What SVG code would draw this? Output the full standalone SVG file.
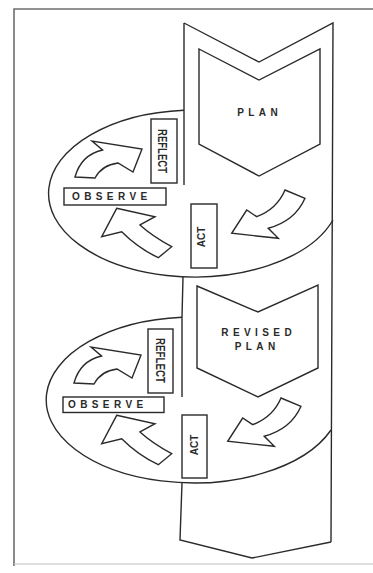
<svg xmlns="http://www.w3.org/2000/svg" xmlns:xlink="http://www.w3.org/1999/xlink" width="373" height="573" viewBox="0 0 373 573">
<style>
.ln{fill:none;stroke:#2a2a2a;stroke-width:1.4;stroke-linejoin:miter}
.sh{fill:#fff;stroke:#2a2a2a;stroke-width:1.4;stroke-linejoin:miter}
.bx{fill:#fff;stroke:#2a2a2a;stroke-width:1.4}
.frame{fill:none;stroke:#6e6e6e;stroke-width:1.6}
.t{font-family:"Liberation Sans",Arial,sans-serif;font-weight:bold;font-size:10px;fill:#2a2a2a;letter-spacing:4.4px}
.tv{font-family:"Liberation Sans",Arial,sans-serif;font-weight:bold;fill:#2a2a2a;text-anchor:middle}
</style>
<defs>
<path id="arrA" d="M75,177 Q81,155 102.5,150 L92,141 L142,149 L133,172 L118,163 Q102,165 95,178 Z"/>
<path id="arrB" d="M116.7,208.3 L155,216.7 L140,225 Q152,236 171.7,246.7 L158.3,257.7 Q138,248 121.7,231.7 L101.7,236.7 Z"/>
<path id="arrC" d="M285,190 L305,198.3 Q295,221 268.3,228.3 L278.3,238.3 L231.7,233.3 L246.7,210 L256.7,216.7 Q277,209 285,190 Z"/>
</defs>
<rect width="373" height="573" fill="#fff"/>
<g id="frame">
<path class="frame" d="M373,9 L14,9 L14,566"/>
<path d="M14,564 L373,564" fill="none" stroke="#bdbdbd" stroke-width="1.2"/>
</g>
<g id="band">
<path class="ln" d="M184,23 L259,62 L333,23 L331,542"/>
<path class="ln" d="M184,23 L184,185"/>
<path class="ln" d="M183,277 L182,317"/>
<path class="ln" d="M182,317 L182,397"/>
<path class="ln" d="M182,483 L180,540 L252,558 L331,542"/>
<path class="ln" d="M184,110.2 A146,83.5 0 1,0 333,220"/>
<path class="ln" d="M182,317.2 A147.4,83 0 1,0 331,430"/>
</g>
<g id="plan">
<path class="sh" d="M199,49 L259,80 L320,49 L320,144 L259,176 L199,144 Z"/>
<text class="t" x="259.7" y="115.5" text-anchor="middle">PLAN</text>
</g>
<g id="act1">
<rect class="bx" x="191" y="204" width="26" height="64"/>
<text class="tv" font-size="10" transform="translate(201.5,237) rotate(-90)" x="0" y="3.6">ACT</text>
</g>
<g id="observe1">
<rect class="bx" x="64" y="188" width="102" height="17"/>
<text class="t" x="72" y="200">OBSERVE</text>
</g>
<g id="reflect1">
<rect class="bx" x="151" y="119" width="26" height="64"/>
<text class="tv" font-size="12.5" transform="translate(162.5,151) rotate(90)" x="0" y="4.5" textLength="44" lengthAdjust="spacingAndGlyphs">REFLECT</text>
</g>
<g id="revised-plan">
<path class="sh" d="M197,286 L258,312 L318,285 L318,368 L258,397 L197,368 Z"/>
<text class="t" x="258.7" y="335.5" text-anchor="middle">REVISED</text>
<text class="t" x="257.2" y="350" text-anchor="middle">PLAN</text>
</g>
<g id="act2">
<rect class="bx" x="182" y="415" width="25" height="63"/>
<text class="tv" font-size="10" transform="translate(194,445) rotate(-90)" x="0" y="3.6">ACT</text>
</g>
<g id="observe2">
<rect class="bx" x="63" y="397" width="101" height="15.5"/>
<text class="t" x="68" y="408">OBSERVE</text>
</g>
<g id="reflect2">
<rect class="bx" x="148" y="329" width="25" height="64"/>
<text class="tv" font-size="12.5" transform="translate(160.5,360.5) rotate(90)" x="0" y="4.5" textLength="45" lengthAdjust="spacingAndGlyphs">REFLECT</text>
</g>
<g id="connectors">
<use xlink:href="#arrA" class="sh"/>
<use xlink:href="#arrB" class="sh"/>
<use xlink:href="#arrC" class="sh"/>
<use xlink:href="#arrA" class="sh" transform="translate(-1,206)"/>
<use xlink:href="#arrB" class="sh" transform="translate(0,207)"/>
<use xlink:href="#arrC" class="sh" transform="translate(-4,208)"/>
</g>
</svg>
